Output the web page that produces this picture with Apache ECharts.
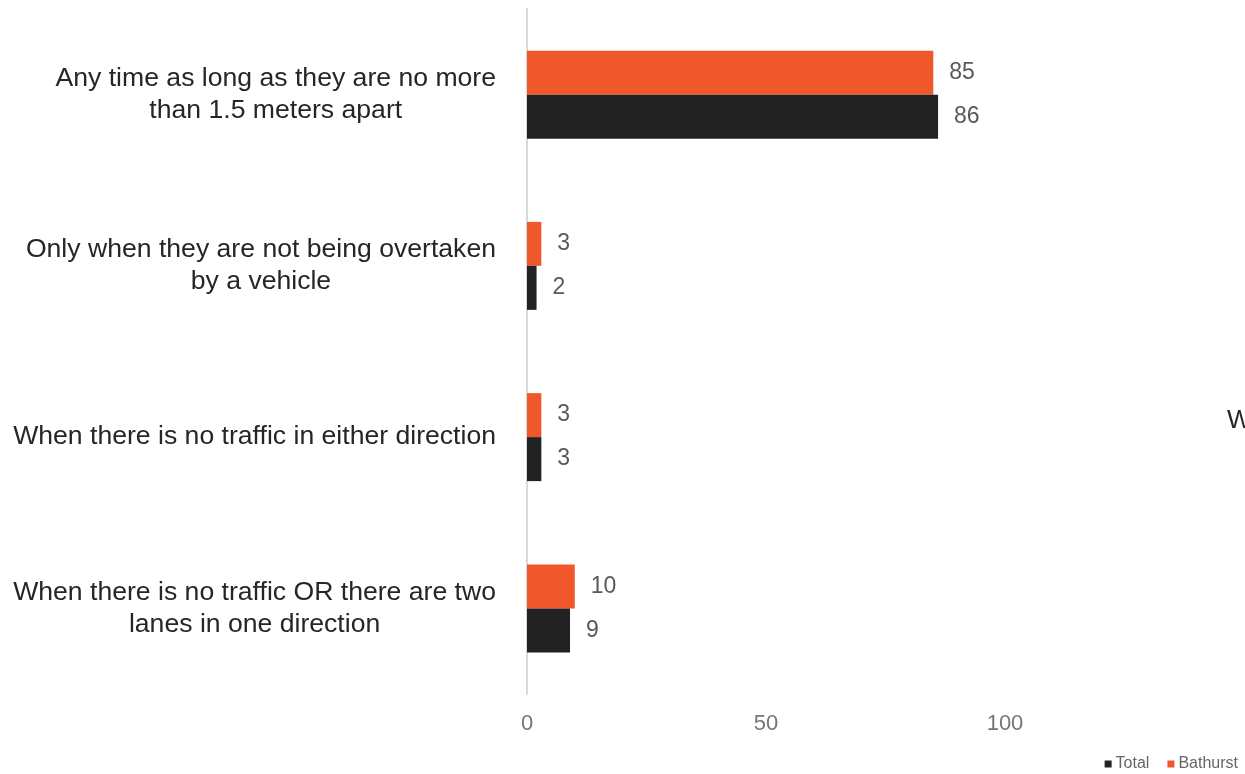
<!DOCTYPE html>
<html>
<head>
<meta charset="utf-8">
<style>
  html, body { margin: 0; padding: 0; background: #fff; }
  #chart { width: 1245px; height: 774px; }
</style>
<script src="https://cdn.jsdelivr.net/npm/echarts@6/dist/echarts.min.js"></script>
</head>
<body>
<div id="chart"></div>
<script>
// Answer options, listed top to bottom
const categories = [
  'Any time as long as they are no more\nthan 1.5 meters apart',
  'Only when they are not being overtaken\nby a vehicle',
  'When there is no traffic in either direction',
  'When there is no traffic OR there are two\nlanes in one direction'
];
const bathurst = [85, 3, 3, 10];
const total = [86, 2, 3, 9];
const seriesNames = ['Bathurst', 'Total'];
const legendOrder = ['Total', 'Bathurst'];

const FONT = '"Liberation Sans", Arial, sans-serif';

const chart = echarts.init(document.getElementById('chart'), null, { renderer: 'canvas' });

const labelStyle = {
  show: true,
  position: 'right',
  distance: 16,
  color: '#595959',
  fontSize: 23,
  fontFamily: FONT,
  padding: [3, 0, 0, 0]
};

chart.setOption({
  animation: false,
  backgroundColor: '#ffffff',
  textStyle: { fontFamily: FONT },
  grid: { left: 527, right: 1, top: 9, bottom: 80, containLabel: false },
  legend: {
    data: legendOrder,
    right: 2,
    bottom: -3,
    itemWidth: 7,
    itemHeight: 7,
    itemGap: 18,
    icon: 'rect',
    textStyle: { color: '#666666', fontSize: 16, fontFamily: FONT, padding: [0, 0, 0, -1] }
  },
  xAxis: {
    type: 'value',
    min: 0,
    max: 150,
    interval: 50,
    axisLine: { show: false },
    axisTick: { show: false },
    splitLine: { show: false },
    axisLabel: {
      showMaxLabel: false,
      margin: 19,
      color: '#767676',
      fontSize: 22,
      fontFamily: FONT
    }
  },
  yAxis: {
    type: 'category',
    inverse: true,
    data: categories,
    axisLine: { show: true, lineStyle: { color: '#d9d9d9', width: 2 } },
    axisTick: { show: false },
    axisLabel: {
      margin: 31,
      color: '#262626',
      fontSize: 26.6,
      lineHeight: 32,
      fontFamily: FONT,
      formatter: function (v) {
        return v.split('\n').map(function (l) { return '{c|' + l + '}'; }).join('\n');
      },
      rich: {
        c: { align: 'center', color: '#262626', fontSize: 26.6, lineHeight: 32, fontFamily: FONT }
      }
    }
  },
  series: [
    {
      name: seriesNames[0],
      type: 'bar',
      data: bathurst,
      barWidth: 44,
      barGap: '0%',
      itemStyle: { color: '#F0582C' },
      label: labelStyle
    },
    {
      name: seriesNames[1],
      type: 'bar',
      data: total,
      barWidth: 44,
      barGap: '0%',
      itemStyle: { color: '#222222' },
      label: labelStyle
    }
  ],
  graphic: [
    {
      type: 'text',
      left: 1227,
      top: 408,
      style: { text: 'W', fill: '#262626', fontSize: 26, fontFamily: FONT }
    }
  ]
});
</script>
</body>
</html>
